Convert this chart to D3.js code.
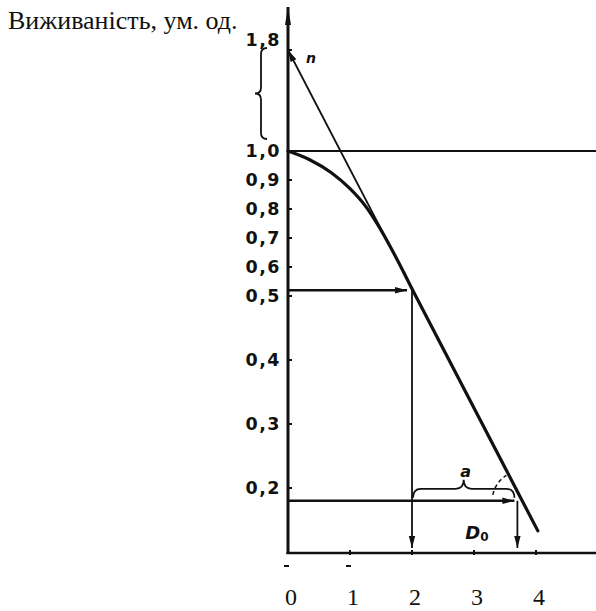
<!DOCTYPE html>
<html>
<head>
<meta charset="utf-8">
<script src="https://cdn.jsdelivr.net/npm/d3@7"></script>
<style>
  body { margin: 0; background: #fff; }
  svg { display: block; }
</style>
</head>
<body>
<svg id="chart" width="596" height="611"></svg>
<script>
// Survival axis (uneven scale, as on the original plate)
const yTicks = [1.8, 1.0, 0.9, 0.8, 0.7, 0.6, 0.5, 0.4, 0.3, 0.2];
const yTickLabels = ["1,8", "1,0", "0,9", "0,8", "0,7", "0,6", "0,5", "0,4", "0,3", "0,2"];
// Dose axis
const xTicks = [0, 1, 2, 3, 4];
const xTickLabels = ["0", "1", "2", "3", "4"];
// Survival curve with a shoulder
const curveDose = [0, 0.35, 0.7, 1.0, 1.25, 1.45, 1.65, 2.06, 4.03];
const curveSurvival = [1.0, 0.97, 0.925, 0.87, 0.81, 0.745, 0.67, 0.5, 0.133];
// Straight part extrapolated back to the survival axis (extrapolation number n)
const extrapDose = [0, 4.03];
const extrapSurvival = [1.8, 0.133];
// Reading D0: survival S and S/e, and the doses where they are reached
const levelSurvival = [0.52, 0.18];
const levelDose = [2.0, 3.7];
const yTitle = "Виживаність, ум. од.";

const svg = d3.select("#chart");
const ink = "#111";

const x = d3.scaleLinear().domain([0, 4]).range([288, 536]);
const y = d3.scaleLinear().domain([0.2, 0.5, 1.0, 1.8]).range([488, 296, 151, 50]);

const axisBottomY = 553;
const rightEdge = 596;
const axisTopY = 7;

// arrow markers
const defs = svg.append("defs");
defs.append("marker")
  .attr("id", "arrow").attr("viewBox", "0 -4 12 8")
  .attr("refX", 12).attr("refY", 0)
  .attr("markerWidth", 12).attr("markerHeight", 8)
  .attr("markerUnits", "userSpaceOnUse").attr("orient", "auto")
  .append("path").attr("d", "M0,-3.2L12,0L0,3.2Z").attr("fill", ink);
defs.append("marker")
  .attr("id", "arrowUp").attr("viewBox", "0 -4 18 8")
  .attr("refX", 18).attr("refY", 0)
  .attr("markerWidth", 18).attr("markerHeight", 8)
  .attr("markerUnits", "userSpaceOnUse").attr("orient", "auto")
  .append("path").attr("d", "M0,-3L18,0L0,3Z").attr("fill", ink);

// title
svg.append("text")
  .attr("x", 8).attr("y", 29)
  .attr("font-family", "'Liberation Serif', 'Times New Roman', serif")
  .attr("font-size", 26).attr("fill", ink)
  .text(yTitle);

// y axis with arrow
svg.append("line")
  .attr("x1", x(0)).attr("x2", x(0))
  .attr("y1", axisBottomY + 1).attr("y2", axisTopY)
  .attr("stroke", ink).attr("stroke-width", 3)
  .attr("marker-end", "url(#arrowUp)");

// x axis
svg.append("line")
  .attr("x1", x(0) - 1.5).attr("x2", rightEdge)
  .attr("y1", axisBottomY).attr("y2", axisBottomY)
  .attr("stroke", ink).attr("stroke-width", 2.5);

// y ticks and labels
svg.selectAll(".ytick").data(yTicks).join("line")
  .attr("class", "ytick")
  .attr("x1", x(0)).attr("x2", x(0) + 4)
  .attr("y1", d => y(d)).attr("y2", d => y(d))
  .attr("stroke", ink).attr("stroke-width", 2);

svg.selectAll(".ylabel").data(yTicks).join("text")
  .attr("class", "ylabel")
  .attr("x", x(0) - 7)
  .attr("y", d => y(d))
  .attr("dy", d => d === yTicks[0] ? "-0.25em" : "0.36em")
  .attr("text-anchor", "end")
  .attr("font-family", "'DejaVu Sans', sans-serif")
  .attr("font-weight", "bold")
  .attr("font-size", 17.5)
  .attr("letter-spacing", 1.5)
  .attr("fill", ink)
  .text((d, i) => yTickLabels[i]);

// x ticks and labels
svg.selectAll(".xtick").data(xTicks.slice(1)).join("line")
  .attr("class", "xtick")
  .attr("x1", d => x(d)).attr("x2", d => x(d))
  .attr("y1", axisBottomY - 3).attr("y2", axisBottomY + 2)
  .attr("stroke", ink).attr("stroke-width", 2);

svg.selectAll(".xmark").data(xTicks.slice(0, 2)).join("line")
  .attr("class", "xmark")
  .attr("x1", d => x(d) - 4).attr("x2", d => x(d) + 1)
  .attr("y1", axisBottomY + 13).attr("y2", axisBottomY + 13)
  .attr("stroke", ink).attr("stroke-width", 2);

svg.selectAll(".xlabel").data(xTicks).join("text")
  .attr("class", "xlabel")
  .attr("x", d => x(d) + 3)
  .attr("y", 605)
  .attr("text-anchor", "middle")
  .attr("font-family", "'Liberation Serif', 'Times New Roman', serif")
  .attr("font-size", 24)
  .attr("fill", ink)
  .text((d, i) => xTickLabels[i]);

// horizontal reference line at survival 1.0
svg.append("line")
  .attr("x1", x(0)).attr("x2", rightEdge)
  .attr("y1", y(1.0)).attr("y2", y(1.0))
  .attr("stroke", ink).attr("stroke-width", 2);

// extrapolated straight line, arrow pointing at n on the axis
svg.append("line")
  .attr("x1", x(extrapDose[1])).attr("y1", y(extrapSurvival[1]))
  .attr("x2", x(extrapDose[0])).attr("y2", y(extrapSurvival[0]))
  .attr("stroke", ink).attr("stroke-width", 1.8)
  .attr("marker-end", "url(#arrow)");

// survival curve
const curvePts = curveDose.map((d, i) => [d, curveSurvival[i]]);
svg.append("path")
  .attr("d", d3.line().x(d => x(d[0])).y(d => y(d[1])).curve(d3.curveMonotoneX)(curvePts))
  .attr("fill", "none").attr("stroke", ink).attr("stroke-width", 3.2)
  .attr("stroke-linecap", "round");

// where a survival level meets the straight line (pixel space)
const p0 = [x(extrapDose[0]), y(extrapSurvival[0])];
const p1 = [x(extrapDose[1]), y(extrapSurvival[1])];
const lineXAt = py => p0[0] + (py - p0[1]) * (p1[0] - p0[0]) / (p1[1] - p0[1]);

// horizontal arrows from the axis to the curve
levelSurvival.forEach((s, i) => {
  svg.append("line")
    .attr("x1", x(0)).attr("x2", x(levelDose[i]) - (i === 0 ? 5 : 3))
    .attr("y1", y(s)).attr("y2", y(s))
    .attr("stroke", ink).attr("stroke-width", 2.4)
    .attr("marker-end", "url(#arrow)");
  // vertical drops to the dose axis
  svg.append("line")
    .attr("x1", x(levelDose[i])).attr("x2", x(levelDose[i]))
    .attr("y1", y(s)).attr("y2", axisBottomY - 5)
    .attr("stroke", ink).attr("stroke-width", 1.8)
    .attr("marker-end", "url(#arrow)");
});

// brace on the survival axis between 1.0 and n
function vBrace(x0, y0, y1, depth) {
  const ym = (y0 + y1) / 2, xm = x0 - depth / 2, xt = x0 - depth, q = 6;
  return `M${x0},${y0} Q${xm},${y0} ${xm},${y0 + q} L${xm},${ym - q} Q${xm},${ym} ${xt},${ym}` +
         ` Q${xm},${ym} ${xm},${ym + q} L${xm},${y1 - q} Q${xm},${y1} ${x0},${y1}`;
}
svg.append("path")
  .attr("d", vBrace(x(0) - 21, y(extrapSurvival[0]) - 2, y(1.0) - 12, 12))
  .attr("fill", "none").attr("stroke", ink).attr("stroke-width", 1.8);

// brace a over the dose span between the two levels
function hBrace(xa, xb, yb, depth) {
  const xm = (xa + xb) / 2, ym = yb - depth / 2, yt = yb - depth, q = 8;
  return `M${xa},${yb} Q${xa},${ym} ${xa + q},${ym} L${xm - q},${ym} Q${xm},${ym} ${xm},${yt}` +
         ` Q${xm},${ym} ${xm + q},${ym} L${xb - q},${ym} Q${xb},${ym} ${xb},${yb}`;
}
const braceY = y(levelSurvival[1]) - 3;
svg.append("path")
  .attr("d", hBrace(x(levelDose[0]) + 1, x(levelDose[1]) - 3, braceY, 18))
  .attr("fill", "none").attr("stroke", ink).attr("stroke-width", 1.8);

// dashed angle arc at the lower crossing
const cx = lineXAt(y(levelSurvival[1])), cy = y(levelSurvival[1]);
const slopeAng = Math.atan2(p0[1] - p1[1], p0[0] - p1[0]);
const r = 30, a0 = Math.PI + 0.2, a1 = slopeAng + 2 * Math.PI - 0.08;
const arcPts = d3.range(0, 1.0001, 0.05).map(t => {
  const a = a0 + (a1 - a0) * t;
  return [cx + r * Math.cos(a), cy + r * Math.sin(a)];
});
svg.append("path")
  .attr("d", d3.line()(arcPts))
  .attr("fill", "none").attr("stroke", ink).attr("stroke-width", 1.5)
  .attr("stroke-dasharray", "4,3");

// annotation letters
const annFont = "'DejaVu Sans', sans-serif";
svg.append("text")
  .attr("x", 311).attr("y", 63)
  .attr("text-anchor", "middle")
  .attr("font-family", annFont).attr("font-style", "italic").attr("font-weight", "bold")
  .attr("font-size", 14).attr("fill", ink)
  .text("n");

svg.append("text")
  .attr("x", (x(levelDose[0]) + x(levelDose[1])) / 2 + 1).attr("y", braceY - 21)
  .attr("text-anchor", "middle")
  .attr("font-family", annFont).attr("font-style", "italic").attr("font-weight", "bold")
  .attr("font-size", 16).attr("fill", ink)
  .text("a");

const d0 = svg.append("text")
  .attr("x", 477).attr("y", 539)
  .attr("text-anchor", "middle")
  .attr("font-family", annFont).attr("font-style", "italic").attr("font-weight", "bold")
  .attr("font-size", 18).attr("fill", ink);
d0.append("tspan").text("D");
d0.append("tspan").attr("font-size", 12).attr("font-style", "normal").attr("dy", 2).text("0");
</script>
</body>
</html>
